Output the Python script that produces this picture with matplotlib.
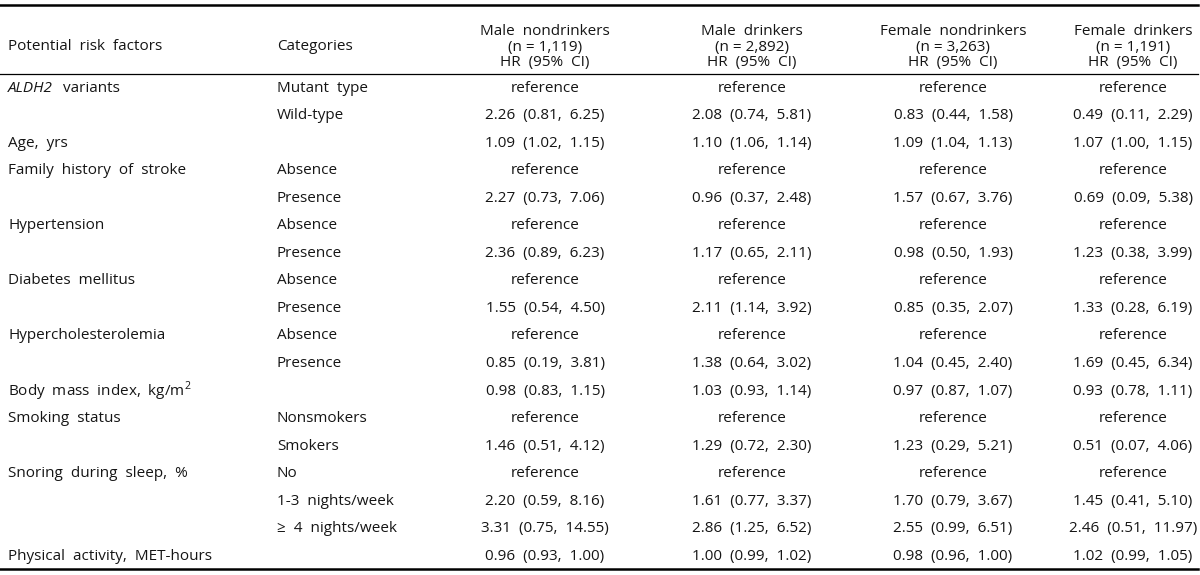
import matplotlib.pyplot as plt

plt.rcParams['font.family'] = ['Open Sans', 'DejaVu Sans']
plt.rcParams['mathtext.fontset'] = 'custom'
plt.rcParams['mathtext.rm'] = 'Open Sans'

# table content
headers = ["Male  nondrinkers\n(n = 1,119)\nHR  (95%  CI)",
           "Male  drinkers\n(n = 2,892)\nHR  (95%  CI)",
           "Female  nondrinkers\n(n = 3,263)\nHR  (95%  CI)",
           "Female  drinkers\n(n = 1,191)\nHR  (95%  CI)"]

factors = ["variants", "", "Age,  yrs", "Family  history  of  stroke", "",
           "Hypertension", "", "Diabetes  mellitus", "", "Hypercholesterolemia", "",
           r"Body  mass  index,  kg/m$^{2}$", "Smoking  status", "",
           "Snoring  during  sleep,  %", "", "", "Physical  activity,  MET-hours"]

categories = ["Mutant  type", "Wild-type", "", "Absence", "Presence", "Absence", "Presence",
              "Absence", "Presence", "Absence", "Presence", "", "Nonsmokers", "Smokers",
              "No", "1-3  nights/week", "\u2265  4  nights/week", ""]

male_non = ["reference", "2.26  (0.81,  6.25)", "1.09  (1.02,  1.15)", "reference",
            "2.27  (0.73,  7.06)", "reference", "2.36  (0.89,  6.23)", "reference",
            "1.55  (0.54,  4.50)", "reference", "0.85  (0.19,  3.81)", "0.98  (0.83,  1.15)",
            "reference", "1.46  (0.51,  4.12)", "reference", "2.20  (0.59,  8.16)",
            "3.31  (0.75,  14.55)", "0.96  (0.93,  1.00)"]

male_drk = ["reference", "2.08  (0.74,  5.81)", "1.10  (1.06,  1.14)", "reference",
            "0.96  (0.37,  2.48)", "reference", "1.17  (0.65,  2.11)", "reference",
            "2.11  (1.14,  3.92)", "reference", "1.38  (0.64,  3.02)", "1.03  (0.93,  1.14)",
            "reference", "1.29  (0.72,  2.30)", "reference", "1.61  (0.77,  3.37)",
            "2.86  (1.25,  6.52)", "1.00  (0.99,  1.02)"]

female_non = ["reference", "0.83  (0.44,  1.58)", "1.09  (1.04,  1.13)", "reference",
              "1.57  (0.67,  3.76)", "reference", "0.98  (0.50,  1.93)", "reference",
              "0.85  (0.35,  2.07)", "reference", "1.04  (0.45,  2.40)", "0.97  (0.87,  1.07)",
              "reference", "1.23  (0.29,  5.21)", "reference", "1.70  (0.79,  3.67)",
              "2.55  (0.99,  6.51)", "0.98  (0.96,  1.00)"]

female_drk = ["reference", "0.49  (0.11,  2.29)", "1.07  (1.00,  1.15)", "reference",
              "0.69  (0.09,  5.38)", "reference", "1.23  (0.38,  3.99)", "reference",
              "1.33  (0.28,  6.19)", "reference", "1.69  (0.45,  6.34)", "0.93  (0.78,  1.11)",
              "reference", "0.51  (0.07,  4.06)", "reference", "1.45  (0.41,  5.10)",
              "2.46  (0.51,  11.97)", "1.02  (0.99,  1.05)"]

columns = [male_non, male_drk, female_non, female_drk]
col_x = [545, 752, 953, 1133]

fig = plt.figure(figsize=(12, 5.75), dpi=100)
ax = fig.add_axes([0, 0, 1, 1])
ax.set_xlim(0, 1200)
ax.set_ylim(575, 0)
ax.axis('off')

fs = 11
c = '#151515'

# rules
ax.plot([0, 1198], [5, 5], color='black', lw=1.8)
ax.plot([0, 1198], [74, 74], color='black', lw=0.9)
ax.plot([0, 1198], [569, 569], color='black', lw=1.8)

# header
ax.text(8, 47, "Potential  risk  factors", fontsize=fs, color=c, va='center')
ax.text(277, 47, "Categories", fontsize=fs, color=c, va='center')
for h, x in zip(headers, col_x):
    ax.text(x, 47, h, fontsize=fs, color=c, ha='center', va='center', linespacing=1.05)

# body
y0, dy = 88, 27.55
ax.text(8, y0, "ALDH2", fontsize=fs, color=c, va='center', style='italic')
for i in range(len(factors)):
    y = y0 + i * dy
    ax.text(63 if i == 0 else 8, y, factors[i], fontsize=fs, color=c, va='center')
    ax.text(277, y, categories[i], fontsize=fs, color=c, va='center')
    for col, x in zip(columns, col_x):
        ax.text(x, y, col[i], fontsize=fs, color=c, ha='center', va='center')

fig.savefig('out.png', dpi=100)
